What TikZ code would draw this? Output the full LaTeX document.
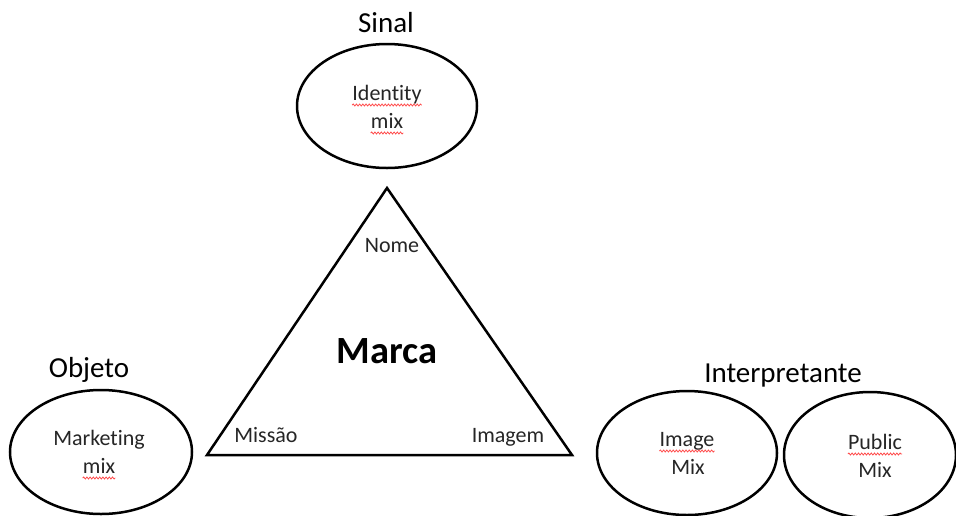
\documentclass[tikz,border=0pt]{standalone}
\usepackage{fontspec}
\setmainfont{Carlito}[Ligatures={NoCommon}]
\usetikzlibrary{shapes.geometric,decorations.pathmorphing}

\tikzset{
  oval/.style={draw, ellipse, line width=2.5pt, inner sep=0pt},
  headtext/.style={anchor=base, inner sep=0pt, font=\fontsize{29}{32}\selectfont},
  bodytext/.style={anchor=base, inner sep=0pt, font=\fontsize{22}{26}\selectfont, text=black!85},
  squiggle/.style={draw=red!70!white, line width=0.8pt,
    decorate, decoration={snake, segment length=3.2pt, amplitude=1pt}},
}

\newcommand{\spellmark}[1]{%
  \draw[squiggle] ([yshift=-5pt]#1.base west) -- ([yshift=-5pt]#1.base east);}

\begin{document}
\begin{tikzpicture}[x=1pt, y=-1pt]
  \useasboundingbox[fill=white] (0,0) rectangle (956,515);

  % central triangle
  \coordinate (apex) at (387,188);
  \coordinate (bl) at (207,455);
  \coordinate (br) at (572,455);
  \draw[line width=2.5pt, line join=miter] (apex) -- (br) -- (bl) -- cycle;
  \node[bodytext] (nome) at (392,252) {Nome};
  \node[anchor=base, inner sep=0pt, font=\fontsize{38.5}{40}\selectfont\bfseries] (marca) at (387,363) {Marca};
  \node[bodytext] (missao) at (266,442) {Missão};
  \node[bodytext] (imagem) at (508,442) {Imagem};

  % sign
  \node[headtext] (sinal) at (386,32) {Sinal};
  \node[oval, minimum width=180pt, minimum height=124pt] (sig) at (387,106) {};
  \node[bodytext] (id1) at (387,100) {Identity};
  \node[bodytext] (id2) at (387,128) {mix};
  \spellmark{id1}
  \spellmark{id2}

  % object
  \node[headtext] (objeto) at (89,377) {Objeto};
  \node[oval, minimum width=182pt, minimum height=124pt] (obj) at (101,452) {};
  \node[bodytext] (mk1) at (99,445) {Marketing};
  \node[bodytext] (mk2) at (99,473) {mix};
  \spellmark{mk2}

  % interpretant
  \node[headtext] (interp) at (783,382) {Interpretante};
  \node[oval, minimum width=180pt, minimum height=124pt] (img) at (687,453) {};
  \node[bodytext] (im1) at (687,446) {Image};
  \node[bodytext] (im2) at (688,474) {Mix};
  \spellmark{im1}
  \node[oval, minimum width=172pt, minimum height=126pt] (pub) at (870,455) {};
  \node[bodytext] (pb1) at (875,449) {Public};
  \node[bodytext] (pb2) at (875,477) {Mix};
  \spellmark{pb1}
\end{tikzpicture}
\end{document}
